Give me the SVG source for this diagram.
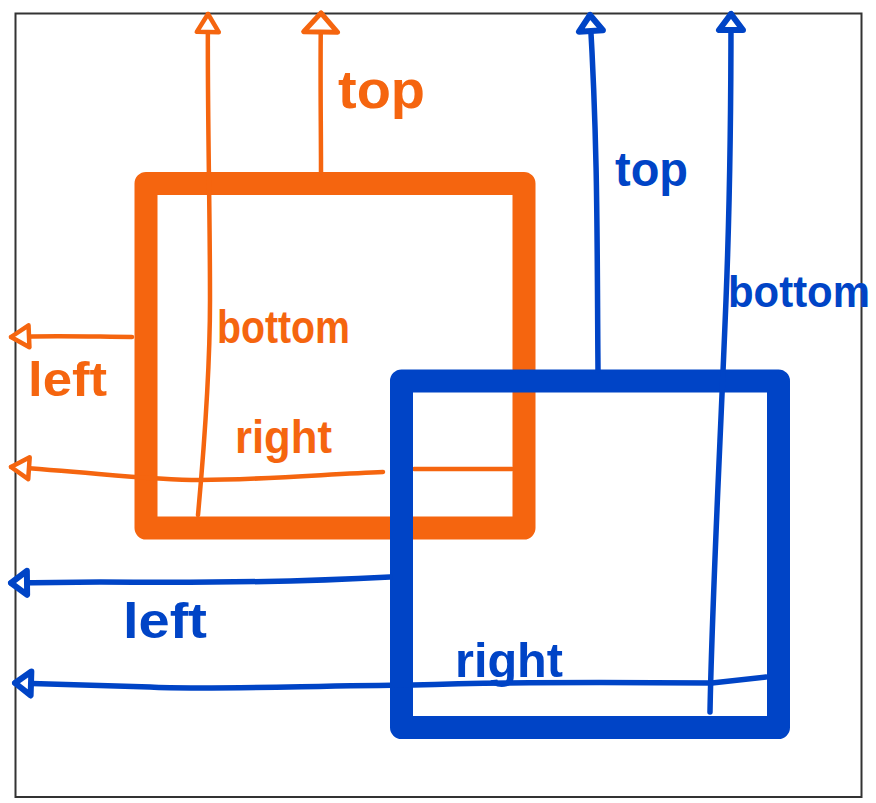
<svg xmlns="http://www.w3.org/2000/svg" width="876" height="803" viewBox="0 0 876 803">
<style>
.frame{fill:#fff;stroke:#333;stroke-width:2}
.box{fill:none;stroke-width:23;stroke-linejoin:round}
.o{stroke:#f5650f}
.b{stroke:#0044c6}
.ln{fill:none;stroke-linecap:round;stroke-linejoin:round}
.lo{stroke:#f5650f;stroke-width:4.5}
.lb{stroke:#0044c6;stroke-width:5.5}
.t{font-family:"Liberation Sans",Arial,sans-serif;font-weight:bold}
.to{fill:#f5650f}
.tb{fill:#0044c6}
</style>
<defs>
<marker id="ao" markerUnits="userSpaceOnUse" viewBox="-24 -16 28 32" markerWidth="28" markerHeight="32" refX="0" refY="0" orient="auto">
<path d="M0 0 L-18 -11 L-18 11 Z" fill="#fff" stroke="#f5650f" stroke-width="4.5" stroke-linejoin="round"/>
</marker>
<marker id="aoL" markerUnits="userSpaceOnUse" viewBox="-26 -22 30 44" markerWidth="30" markerHeight="44" refX="0" refY="0" orient="auto">
<path d="M0 0 L-19 -17 L-19 17 Z" fill="#fff" stroke="#f5650f" stroke-width="5" stroke-linejoin="round"/>
</marker>
<marker id="ab" markerUnits="userSpaceOnUse" viewBox="-24 -18 28 36" markerWidth="28" markerHeight="36" refX="0" refY="0" orient="auto">
<path d="M0 0 L-16 -12 L-16 12 Z" fill="#fff" stroke="#0044c6" stroke-width="6" stroke-linejoin="round"/>
</marker>
</defs>
<rect class="frame" x="15.5" y="13.5" width="846" height="783.5"/>
<g id="orange-box">
<rect class="box o" x="146" y="183.5" width="378" height="344.5"/>
</g>
<g id="connectors">
<g id="orange-connectors">
<path class="ln lo" d="M198 515 C203 460 210 380 210 300 C210 200 207 100 208 14" marker-end="url(#ao)"/>
<path class="ln lo" d="M321 172 C321 120 320 70 321 13" marker-end="url(#aoL)"/>
<path class="ln lo" d="M132 337 C100 337 60 335 11 337" marker-end="url(#ao)"/>
<path class="ln lo" d="M383 472 C330 474 260 480 200 480 C150 480 100 473 11 467" marker-end="url(#ao)"/>
<path class="ln lo" d="M414 469 L512 469"/>
</g>
</g>
<g id="blue-box">
<rect class="box b" x="401.5" y="381" width="377" height="346.5"/>
</g>
<g id="blue-connectors">
<path class="ln lb" d="M598 370 C597 250 598 150 590 15" marker-end="url(#ab)"/>
<path class="ln lb" d="M710 712 C712 600 720 450 726 300 C730 200 731 100 731 14" marker-end="url(#ab)"/>
<path class="ln lb" d="M390 577 C300 582 200 583 100 582 L11 583" marker-end="url(#ab)"/>
<path class="ln lb" d="M766 677 L712 683 C600 682 500 682 413 685 C300 686 200 690 150 687 L15 683" marker-end="url(#ab)"/>
</g>
<g id="labels">
<text class="t to" x="338" y="108" font-size="54" textLength="87" lengthAdjust="spacingAndGlyphs">top</text>
<text class="t to" x="217" y="343" font-size="46" textLength="133" lengthAdjust="spacingAndGlyphs">bottom</text>
<text class="t to" x="28" y="396" font-size="48" textLength="79" lengthAdjust="spacingAndGlyphs">left</text>
<text class="t to" x="235" y="453" font-size="46" textLength="97" lengthAdjust="spacingAndGlyphs">right</text>
<text class="t tb" x="615" y="186" font-size="48" textLength="73" lengthAdjust="spacingAndGlyphs">top</text>
<text class="t tb" x="728" y="307" font-size="44" textLength="142" lengthAdjust="spacingAndGlyphs">bottom</text>
<text class="t tb" x="123" y="638" font-size="50" textLength="84" lengthAdjust="spacingAndGlyphs">left</text>
<text class="t tb" x="455" y="677" font-size="48" textLength="108" lengthAdjust="spacingAndGlyphs">right</text>
</g>
</svg>
